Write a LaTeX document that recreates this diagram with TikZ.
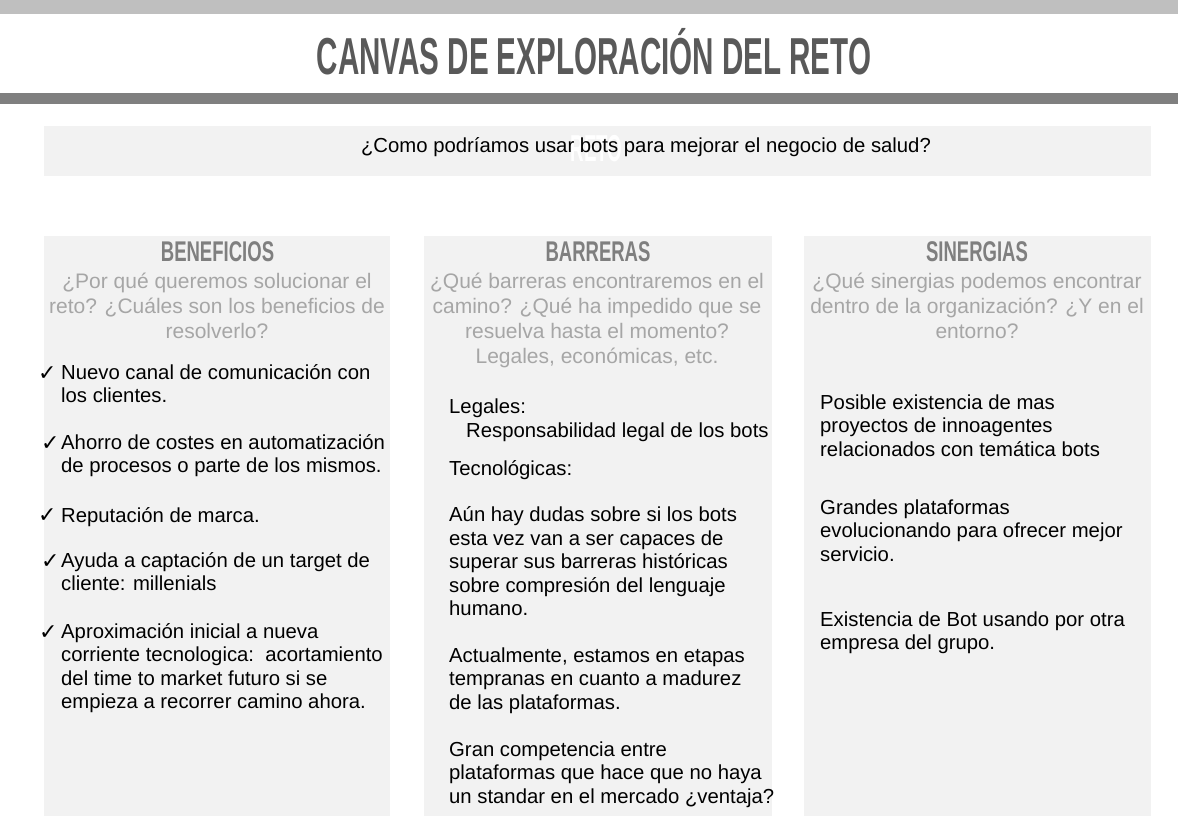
\documentclass[tikz,border=0pt]{standalone}
\usepackage{fontspec}
\setmainfont{Liberation Sans}
\newfontfamily\titlefont[FakeStretch=0.569]{Liberation Sans}
\newfontfamily\headfont[FakeStretch=0.65]{Liberation Sans}
\newfontfamily\retofont[FakeStretch=0.5]{Liberation Sans}
\newfontfamily\symfont{DejaVu Sans}
\usepackage{tikz}
\usetikzlibrary{positioning}
\definecolor{barlight}{HTML}{BFBFBF}
\definecolor{bardark}{HTML}{7F7F7F}
\definecolor{boxfill}{HTML}{F2F2F2}
\definecolor{titlegray}{HTML}{595959}
\definecolor{headgray}{HTML}{7F7F7F}
\definecolor{askgray}{HTML}{A6A6A6}

\begin{document}
\begin{tikzpicture}[x=1pt,y=-1pt]
\tikzstyle{col}=[fill=boxfill]
\tikzstyle{hdr}=[anchor=base, inner sep=0pt, text=headgray, font=\headfont\bfseries\fontsize{28.5}{28.5}\selectfont]
\tikzstyle{ask}=[anchor=north, inner sep=0pt, align=center, text=askgray, font=\fontsize{21}{25}\selectfont, execute at begin node=\strut]
\tikzstyle{txt}=[anchor=north west, inner sep=0pt, align=left, font=\fontsize{20.3}{23.5}\selectfont, execute at begin node=\strut]
\tikzstyle{chk}=[anchor=base west, inner sep=0pt, font=\symfont\fontsize{22}{22}\selectfont]

\useasboundingbox (0,0) rectangle (1178,834);
\fill[white] (0,0) rectangle (1178,834);

% bars and title
\fill[barlight] (0,0) rectangle (1178,14);
\fill[bardark] (0,93) rectangle (1178,104);
\node[anchor=base, inner sep=0pt, text=titlegray, font=\titlefont\bfseries\fontsize{52}{52}\selectfont] (title) at (594,75) {CANVAS DE EXPLORACIÓN DEL RETO};

% reto
\fill[col] (44,126) rectangle (1151,176);
\node[anchor=base, inner sep=0pt, text=white, font=\retofont\bfseries\fontsize{37.5}{37.5}\selectfont] (retolbl) at (596.5,162) {RETO};
\node[anchor=base, inner sep=0pt, font=\fontsize{20.3}{24}\selectfont] (reto) at (646,153) {¿Como podríamos usar bots para mejorar el negocio de salud?};

% columns
\fill[col] (44,236) rectangle (390,816);
\fill[col] (424,236) rectangle (772,816);
\fill[col] (804,236) rectangle (1151,816);

\node[hdr] (benhdr) at (217.5,262) {BENEFICIOS};
\node[hdr] (barhdr) at (598,262) {BARRERAS};
\node[hdr] (sinhdr) at (977,262) {SINERGIAS};

\node[ask] (benask) at (217,273) {¿Por qué queremos solucionar el\\reto? ¿Cuáles son los beneficios de\\resolverlo?};
\node[ask] (barask) at (597,273) {¿Qué barreras encontraremos en el\\camino? ¿Qué ha impedido que se\\resuelva hasta el momento?\\Legales, económicas, etc.};
\node[ask] (sinask) at (977,273) {¿Qué sinergias podemos encontrar\\dentro de la organización? ¿Y en el\\entorno?};

% beneficios
\foreach \i/\x/\y in {1/38/380.5, 2/41/450.5, 3/38/522.5, 4/41/568.5, 5/39/639.5}
  \node[chk] (chk\i) at (\x,\y) {✓};
\node[txt] (ben1) at (61,364) {Nuevo canal de comunicación con\\los clientes.};
\node[txt] (ben2) at (61,434) {Ahorro de costes en automatización\\de procesos o parte de los mismos.};
\node[txt] (ben3) at (61,506) {Reputación de marca.};
\node[txt] (ben4) at (61,552) {Ayuda a captación de un target de\\cliente: millenials};
\node[txt] (ben5) at (61,623) {Aproximación inicial a nueva\\corriente tecnologica:\ \ acortamiento\\del time to market futuro si se\\empieza a recorrer camino ahora.};

% barreras
\node[txt] (legal) at (449,396.5) {Legales:};
\node[txt] (legal1) at (466,420.5) {Responsabilidad legal de los bots};
\node[txt] (tecno) at (449,458.5) {Tecnológicas:};
\node[txt] (tecno1) at (449,506.5) {Aún hay dudas sobre si los bots\\esta vez van a ser capaces de\\superar sus barreras históricas\\sobre compresión del lenguaje\\humano.};
\node[txt] (tecno2) at (449,647.5) {Actualmente, estamos en etapas\\tempranas en cuanto a madurez\\de las plataformas.};
\node[txt] (tecno3) at (449,741.5) {Gran competencia entre\\plataformas que hace que no haya\\un standar en el mercado ¿ventaja?};

% sinergias
\node[txt] (sin1) at (820,394.5) {Posible existencia de mas\\proyectos de innoagentes\\relacionados con temática bots};
\node[txt] (sin2) at (820,499.5) {Grandes plataformas\\evolucionando para ofrecer mejor\\servicio.};
\node[txt] (sin3) at (820,611.5) {Existencia de Bot usando por otra\\empresa del grupo.};
\end{tikzpicture}
\end{document}
